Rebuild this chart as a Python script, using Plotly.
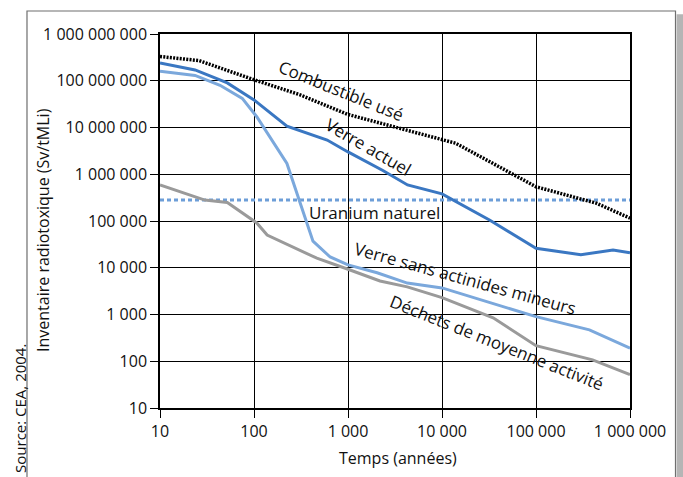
import plotly.graph_objects as go

# ---- data ----
comb_t = [10, 26, 100, 310, 1000, 12000, 14000, 100000, 210000, 440000, 1000000]
comb_v = [3.3e8, 2.7e8, 1.05e8, 5.0e7, 1.9e7, 4.9e6, 4.6e6, 5.4e5, 3.6e5, 2.4e5, 1.15e5]

actuel_t = [10, 23.6, 52, 100, 224, 600, 1000, 2350, 4300, 10000, 32000, 100000, 300000, 660000, 1000000]
actuel_v = [2.4e8, 1.7e8, 9e7, 3.9e7, 1.07e7, 5.4e6, 3.0e6, 1.2e6, 5.9e5, 3.8e5, 1.05e5, 2.6e4, 1.9e4, 2.4e4, 2.1e4]

sans_t = [10, 23.6, 43.5, 75, 107, 224, 424, 646, 1000, 2040, 4270, 10000, 100000, 370000, 1000000]
sans_v = [1.6e8, 1.3e8, 8e7, 4.2e7, 1.7e7, 1.7e6, 3.7e4, 1.7e4, 1.15e4, 7800, 4700, 3700, 900, 470, 190]

dechets_t = [10, 30, 52, 107, 138, 466, 1000, 2190, 4270, 10000, 35000, 100000, 400000, 1000000]
dechets_v = [5.9e5, 2.8e5, 2.5e5, 9.1e4, 5.0e4, 1.6e4, 9300, 5200, 3900, 2300, 850, 215, 107, 52]

uranium_t = [10, 1000000]
uranium_v = [2.8e5, 2.8e5]

x_tick_vals = [10, 100, 1000, 10000, 100000, 1000000]
x_tick_text = ["10", "100", "1 000", "10 000", "100 000", "1 000 000"]
y_tick_vals = [10, 100, 1000, 1e4, 1e5, 1e6, 1e7, 1e8, 1e9]
y_tick_text = ["10", "100", "1 000", "10 000", "100 000", "1 000 000",
               "10 000 000", "100 000 000", "1 000 000 000"]

FONT = "Open Sans"
TXT = "#111111"

fig = go.Figure()
fig.add_trace(go.Scatter(x=uranium_t, y=uranium_v, mode="lines",
                         line=dict(color="#6d9ed8", width=3, dash="4px,3px")))
fig.add_trace(go.Scatter(x=dechets_t, y=dechets_v, mode="lines",
                         line=dict(color="#9a9a9a", width=3)))
fig.add_trace(go.Scatter(x=sans_t, y=sans_v, mode="lines",
                         line=dict(color="#7ba8dc", width=3)))
fig.add_trace(go.Scatter(x=actuel_t, y=actuel_v, mode="lines",
                         line=dict(color="#3a77c2", width=3)))
fig.add_trace(go.Scatter(x=comb_t, y=comb_v, mode="lines",
                         line=dict(color="#000000", width=3.5, dash="2px,1.3px")))

axis_common = dict(
    type="log", showgrid=True, gridcolor="#000000", gridwidth=1.3,
    showline=True, linecolor="#000000", linewidth=1.5, mirror=True,
    ticks="outside", ticklen=8, tickcolor="#000000", tickwidth=1.3,
    tickfont=dict(family=FONT, size=16, color=TXT), zeroline=False,
)

fig.update_layout(
    width=683, height=477,
    margin=dict(l=160, r=53, t=34, b=69),
    paper_bgcolor="white", plot_bgcolor="white",
    showlegend=False,
    xaxis=dict(range=[1, 6], tickvals=x_tick_vals, ticktext=x_tick_text, **axis_common),
    yaxis=dict(range=[1, 9], tickvals=y_tick_vals, ticktext=y_tick_text, **axis_common),
)

# frame and right shadow
fig.add_shape(type="rect", xref="paper", yref="paper",
              x0=-0.283, x1=1.0968, y0=-0.35, y1=1.0615,
              line=dict(color="#6f6f6f", width=1.2), fillcolor="rgba(0,0,0,0)", layer="below")
fig.add_shape(type="rect", xref="paper", yref="paper",
              x0=1.099, x1=1.12, y0=-0.35, y1=1.053,
              line=dict(width=0), fillcolor="#b5b5b5", layer="below")

lab = dict(family=FONT, size=17, color=TXT)
ann = [
    dict(text="Combustible usé", x=2.926, y=7.80, textangle=22),
    dict(text="Verre actuel", x=3.213, y=6.60, textangle=30),
    dict(text="Uranium naturel", x=3.287, y=5.19, textangle=0),
    dict(text="Verre sans actinides mineurs", x=4.255, y=3.78, textangle=15.4),
    dict(text="Déchets de moyenne activité", x=4.585, y=2.41, textangle=21.7),
]
for a in ann:
    fig.add_annotation(xref="x", yref="y", showarrow=False, font=lab,
                       xanchor="center", yanchor="middle", **a)

# axis titles
fig.add_annotation(xref="paper", yref="paper", x=0.506, y=-0.134, showarrow=False,
                   xanchor="center", yanchor="middle",
                   text="Temps (années)", font=dict(family=FONT, size=16, color=TXT))
fig.add_annotation(xref="paper", yref="paper", x=-0.249, y=0.476, showarrow=False,
                   xanchor="center", yanchor="middle",
                   text="Inventaire radiotoxique (Sv/tMLi)", textangle=-90,
                   font=dict(family=FONT, size=16, color=TXT))
# source
fig.add_annotation(xref="paper", yref="paper", x=-0.298, y=0.0, showarrow=False,
                   xanchor="center", yanchor="middle",
                   text="Source: CEA, 2004.", textangle=-90,
                   font=dict(family=FONT, size=15, color=TXT))

fig.write_html("out.html", config={"displayModeBar": False},
               post_script="document.body.style.margin='0px';")
